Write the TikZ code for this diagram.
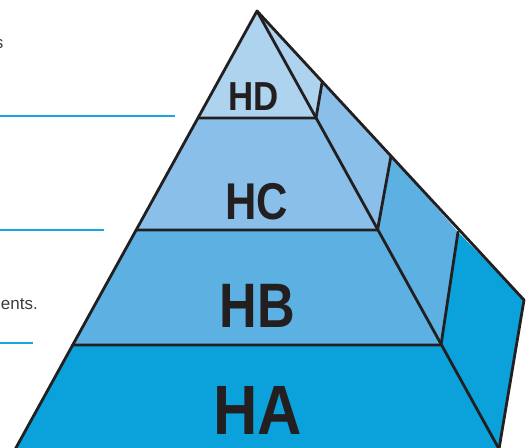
\documentclass[tikz,border=0pt]{standalone}
\usepackage{fontspec}
\usepackage{graphicx}
\setmainfont{Liberation Sans}
\definecolor{cD}{HTML}{AED3EF}
\definecolor{cC}{HTML}{89BFE8}
\definecolor{cB}{HTML}{5DB0E2}
\definecolor{cA}{HTML}{0BA1DB}
\definecolor{ink}{HTML}{231F20}
\definecolor{rulec}{HTML}{17A6E2}
\definecolor{txt}{HTML}{3C3C3C}
\begin{document}
\begin{tikzpicture}[x=1pt,y=-1pt,
  edge/.style={draw=ink,line width=2.8pt,line join=round,line cap=round},
  lvl/.style={text=ink,inner sep=0pt,anchor=center},
  rulel/.style={draw=rulec,line width=2.7pt},
  side/.style={text=txt,inner sep=0pt,font=\fontsize{17}{20}\selectfont}]
\useasboundingbox (0,0) rectangle (527,447);
% key points
\coordinate (A) at (257,11);
\coordinate (L1) at (198,118);
\coordinate (L2) at (136,230);
\coordinate (L3) at (72.5,345);
\coordinate (L4) at (12,455);
\coordinate (R1) at (316,118);
\coordinate (R2) at (377.5,230);
\coordinate (R3) at (441,345);
\coordinate (R4) at (499,449);
\coordinate (B1) at (322,83);
\coordinate (B2) at (391,156);
\coordinate (B3) at (458,232);
\coordinate (B4) at (524,300);
\coordinate (F4) at (499,455);
% fills: front
\fill[cD] (A) -- (R1) -- (L1) -- cycle;
\fill[cC] (L1) -- (R1) -- (R2) -- (L2) -- cycle;
\fill[cB] (L2) -- (R2) -- (R3) -- (L3) -- cycle;
\fill[cA] (L3) -- (R3) -- (R4) -- (F4) -- (L4) -- cycle;
% fills: side
\fill[cD] (A) -- (B1) -- (R1) -- cycle;
\fill[cC] (R1) -- (B1) -- (B2) -- (R2) -- cycle;
\fill[cB] (R2) -- (B2) -- (B3) -- (R3) -- cycle;
\fill[cA] (R3) -- (B3) -- (B4) -- (R4) -- cycle;
% edges
\draw[edge] (L4) -- (A) -- (R4);
\draw[edge] (A) -- (B4) -- (R4);
\draw[edge] (L1) -- (R1) -- (B1);
\draw[edge] (L2) -- (R2) -- (B2);
\draw[edge] (L3) -- (R3) -- (B3);
% labels
\node[lvl,font=\fontsize{40.5}{41}\selectfont\bfseries] (hd) at (254,96.5) {\scalebox{0.86}[1]{HD}};
\node[lvl,font=\fontsize{51.7}{52}\selectfont\bfseries] (hc) at (256.5,201.5) {\scalebox{0.84}[1]{HC}};
\node[lvl,font=\fontsize{62.8}{63}\selectfont\bfseries] (hb) at (257.5,305.5) {\scalebox{0.83}[1]{HB}};
\node[lvl,font=\fontsize{69.8}{70}\selectfont\bfseries] (ha) at (258,410) {\scalebox{0.88}[1]{HA}};
% left side text and rules
\node[side,anchor=base east] (t1) at (3.5,48) {s};
\node[side,anchor=base east] (t2) at (38,309) {ents.};
\draw[rulel] (-2,116) -- (175,116);
\draw[rulel] (-2,230) -- (104,230);
\draw[rulel] (-2,343) -- (33,343);
\end{tikzpicture}
\end{document}
